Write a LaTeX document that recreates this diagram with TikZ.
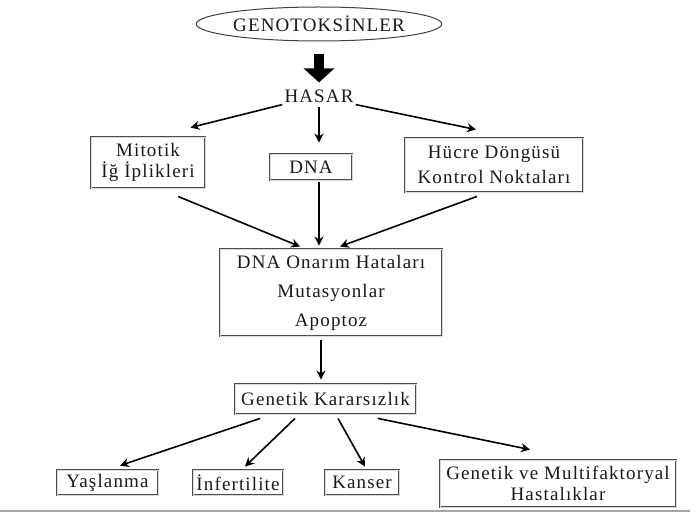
\documentclass[tikz,border=0pt]{standalone}
\usepackage{fontspec}
\setmainfont{Liberation Serif}[LetterSpace=6]
\usetikzlibrary{arrows.meta, calc, shapes.geometric}

\tikzset{
  font=\fontsize{19}{21}\selectfont,
  >={Stealth[length=9pt, width=9pt]},
  %
  box/.style={draw=black!70, line width=0.9pt, double=black!15,
              double distance=0.6pt, inner sep=3pt, align=center,
              text=black!90},
  oval/.style={ellipse, draw=black!75, line width=1pt, text=black!90,
               minimum width=230pt, minimum height=34pt, inner sep=1pt},
  %
  flow/.style={draw=black, line width=1.6pt, ->},
  bigflow/.style={draw=black, line width=10pt,
                  -{Triangle[length=14pt, width=30pt]}},
  lbl/.style={text=black!90, inner sep=2pt},
}

\begin{document}
\begin{tikzpicture}[x=1pt, y=-1pt]

  \useasboundingbox (0,0) rectangle (696,513);

  \node[oval] (gen) at (319,24) {GENOTOKSİNLER};
  \node[lbl] (hasar) at (319,96) {HASAR};
  \draw[bigflow] ($(gen.south)+(0,13)$) -- ($(hasar.north)+(0,-5)$);

  \node[box, minimum width=114pt, minimum height=51pt]
    (mit) at (148,162.5) {Mitotik\\İğ İplikleri};
  \node[box, minimum width=82pt, minimum height=26pt]
    (dna) at (311,167) {DNA};
  \node[box, minimum width=178pt, minimum height=54pt]
    (hucre) at (494,165) {Hücre Döngüsü\\[4pt]Kontrol Noktaları};

  \node[box, minimum width=222pt, minimum height=87pt]
    (mid) at (331,292.5) {DNA Onarım Hataları\\[8pt]Mutasyonlar\\[8pt]Apoptoz};

  \node[box, minimum width=181pt, minimum height=30pt]
    (gk) at (325.5,399) {Genetik Kararsızlık};

  \node[box, minimum width=101pt, minimum height=25pt] (yas) at (107.5,482.5) {Yaşlanma};
  \node[box, minimum width=90pt, minimum height=25pt] (inf) at (238,482.5) {İnfertilite};
  \node[box, minimum width=74pt, minimum height=25pt] (kan) at (362,482.5) {Kanser};
  \node[box, minimum width=236pt, minimum height=47pt]
    (gvm) at (558,483.5) {Genetik ve Multifaktoryal\\Hastalıklar};

  % hasar to the three targets
  \draw[flow] (hasar.south west) -- ($(mit.north east)+(-15,-9)$);
  \draw[flow] ($(hasar.south)+(0,2)$) -- ($(dna.north)+(8,-11)$);
  \draw[flow] (hasar.south east) -- ($(hucre.north)+(-18,-8)$);

  % into the middle box
  \draw[flow] ($(mit.south)+(30,8)$) -- ($(mid.north)+(-31,-2)$);
  \draw[flow] ($(dna.south)+(8,2)$) -- ($(mid.north)+(-12,-3)$);
  \draw[flow] ($(hucre.south)+(-17,4)$) -- ($(mid.north)+(9,-2)$);

  \draw[flow] ($(mid.south)+(-10,4)$) -- ($(gk.north)+(-4.5,-4)$);

  % outcomes
  \draw[flow] ($(gk.south)+(-65.5,4)$) -- ($(yas.north)+(12.5,-4)$);
  \draw[flow] ($(gk.south)+(-30.5,4)$) -- ($(inf.north)+(7,-3)$);
  \draw[flow] ($(gk.south)+(12.5,4)$) -- ($(kan.north)+(3,-3)$);
  \draw[flow] ($(gk.south)+(52.5,4)$) -- ($(gvm.north)+(-28,-10)$);

  \draw[black!35, line width=1.2pt] (0,511) -- (690,511);

\end{tikzpicture}
\end{document}
